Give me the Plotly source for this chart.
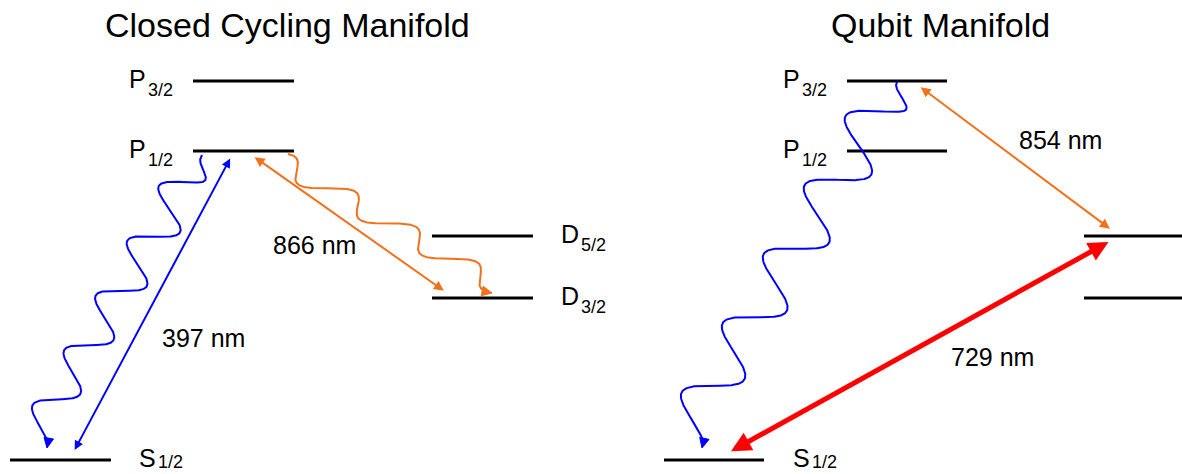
import numpy as np
import plotly.graph_objects as go

W, H = 1182, 474
FONT = "Liberation Sans, Arial, Helvetica, sans-serif"

# ---------------- data ----------------
panel_titles = ["Closed Cycling Manifold", "Qubit Manifold"]
panel_title_x = [287, 940]

level_names = ["S1/2", "D3/2", "D5/2", "P1/2", "P3/2"]
level_letters = ["S", "D", "D", "P", "P"]
level_subs = ["1/2", "3/2", "5/2", "1/2", "3/2"]
level_energy = [14, 176, 238, 323, 393]          # vertical position of each level

# horizontal extent of each level line in the two panels
left_x0 = [10, 432, 432, 193, 193]
left_x1 = [111, 533, 533, 294, 294]
right_x0 = [664, 1084, 1084, 847, 847]
right_x1 = [764, 1195, 1195, 947, 947]
left_label_x = [138, 560, 560, 128, 128]
right_label_x = [792, None, None, 782, 782]

# laser (driven, double-headed) transitions
laser_names = ["397 nm", "866 nm", "854 nm", "729 nm"]
laser_lower = ["S1/2", "D3/2", "D5/2", "S1/2"]
laser_upper = ["P1/2", "P1/2", "P3/2", "D5/2"]
laser_lower_x = [73, 447, 1113, 726]
laser_upper_x = [231, 253, 919, 1112]
laser_lower_gap = [7, 5, 5, 6]
laser_upper_gap = [6, 5, 5, 4]
laser_label_x = [203, 314, 1060, 992]
laser_label_y = [136, 229, 334, 117]

# spontaneous decays (wavy arrows)
decay_upper = ["P1/2", "P1/2", "P3/2"]
decay_lower = ["S1/2", "D3/2", "S1/2"]
decay_upper_x = [202, 288, 897]
decay_lower_x = [47, 492, 702]
decay_upper_gap = [4, 3, 1]
decay_lower_gap = [12, 5, 12]

# ---------------- styles ----------------
BLUE = "#0000FF"
ORANGE = "#F2711C"
RED = "#FF0000"
laser_style = [
    dict(color=BLUE, width=2, size=0.9),
    dict(color=ORANGE, width=2, size=1.0),
    dict(color=ORANGE, width=2, size=1.0),
    dict(color=RED, width=5, size=0.8),
]
decay_style = [
    dict(color=BLUE, th0=0.0 * np.pi, th1=10.5 * np.pi, a0=22, a1=17, rot=90, ramp=0.9 * np.pi),
    dict(color=ORANGE, th0=0.35 * np.pi, th1=7.7 * np.pi, a0=14, a1=13, rot=59, ramp=0.0),
    dict(color=BLUE, th0=0.15 * np.pi, th1=10.5 * np.pi, a0=27, a1=23, rot=90, ramp=0.6 * np.pi),
]

E = dict(zip(level_names, level_energy))

fig = go.Figure()
annotations = []

# ---- level lines ----
for x0s, x1s in [(left_x0, left_x1), (right_x0, right_x1)]:
    xs, ys = [], []
    for name, a, b in zip(level_names, x0s, x1s):
        xs += [a, b, None]
        ys += [E[name], E[name], None]
    fig.add_trace(go.Scatter(x=xs, y=ys, mode="lines",
                             line=dict(color="black", width=3),
                             hoverinfo="skip", showlegend=False))

# ---- level labels ----
LETTER_SIZE = 25
SUB_SIZE = 18
letter_w = {"P": 0.667, "S": 0.667, "D": 0.722}
for labx in (left_label_x, right_label_x):
    for name, let, sub, lx in zip(level_names, level_letters, level_subs, labx):
        if lx is None:
            continue
        annotations.append(dict(x=lx - 1, y=E[name] + 2, text=let, showarrow=False,
                                xanchor="left", yanchor="middle",
                                font=dict(family=FONT, size=LETTER_SIZE, color="black")))
        sx = lx + letter_w[let] * LETTER_SIZE + 2
        sy = max(E[name] - 9, 0.6 * SUB_SIZE + 1.5)
        annotations.append(dict(x=sx - 1, y=sy, text=sub, showarrow=False,
                                xanchor="left", yanchor="middle",
                                font=dict(family=FONT, size=SUB_SIZE, color="black")))

# ---- titles ----
for t, cx in zip(panel_titles, panel_title_x):
    annotations.append(dict(x=cx, y=449, text=t, showarrow=False,
                            xanchor="center", yanchor="middle",
                            font=dict(family=FONT, size=34, color="black")))

# ---- laser arrows ----
for i in range(len(laser_names)):
    st = laser_style[i]
    xl, yl = laser_lower_x[i], E[laser_lower[i]] + laser_lower_gap[i]
    xu, yu = laser_upper_x[i], E[laser_upper[i]] - laser_upper_gap[i]
    sc = st["width"] * st["size"]
    annotations.append(dict(x=xu, y=yu, ax=xl, ay=yl, axref="x", ayref="y",
                            xref="x", yref="y", text="", showarrow=True,
                            arrowhead=2, startarrowhead=2, arrowside="end+start",
                            arrowwidth=st["width"], arrowsize=st["size"],
                            startarrowsize=st["size"], arrowcolor=st["color"],
                            standoff=sc, startstandoff=sc))
    annotations.append(dict(x=laser_label_x[i], y=laser_label_y[i], text=laser_names[i],
                            showarrow=False, xanchor="center", yanchor="middle",
                            font=dict(family=FONT, size=25, color="black")))


# ---- wavy decay arrows ----
def smoothstep(x):
    x = np.clip(x, 0, 1)
    return x * x * (3 - 2 * x)


def wave(p0, p1, th0, th1, a0, a1, rot_deg, ramp, n=1000):
    p0 = np.asarray(p0, float)
    p1 = np.asarray(p1, float)
    v = p1 - p0
    d = v / np.hypot(*v)
    r = np.deg2rad(rot_deg)
    m = np.array([d[0] * np.cos(r) - d[1] * np.sin(r),
                  d[0] * np.sin(r) + d[1] * np.cos(r)])
    t = np.linspace(0, 1, n)
    th = th0 + (th1 - th0) * t
    amp = a0 + (a1 - a0) * t
    if ramp > 0:
        amp = amp * smoothstep((th - th0) / ramp)
    off = amp * np.sin(th)
    corr = (1 - t) * off[0] + t * off[-1]
    return p0[None, :] + t[:, None] * v[None, :] + (off - corr)[:, None] * m[None, :]


HEAD_LEN = 10.0
HEAD_HALF = 4.8
for i in range(len(decay_upper)):
    st = decay_style[i]
    p0 = (decay_upper_x[i], E[decay_upper[i]] - decay_upper_gap[i])
    p1 = (decay_lower_x[i], E[decay_lower[i]] + decay_lower_gap[i])
    pts = wave(p0, p1, st["th0"], st["th1"], st["a0"], st["a1"], st["rot"], st["ramp"])
    seg = np.hypot(np.diff(pts[:, 0]), np.diff(pts[:, 1]))
    cum = np.concatenate([[0], np.cumsum(seg)])
    # tangent at the end of the curve
    j = int(np.searchsorted(cum, cum[-1] - 5))
    tan = pts[-1] - pts[j]
    tan = tan / np.hypot(*tan)
    nrm = np.array([-tan[1], tan[0]])
    tip = pts[-1]
    base = tip - HEAD_LEN * tan
    k = int(np.searchsorted(cum, cum[-1] - HEAD_LEN + 2))
    fig.add_trace(go.Scatter(x=list(pts[:k + 1, 0]), y=list(pts[:k + 1, 1]), mode="lines",
                             line=dict(color=st["color"], width=2),
                             hoverinfo="skip", showlegend=False))
    tri = np.array([tip, base + HEAD_HALF * nrm, base - HEAD_HALF * nrm, tip])
    fig.add_trace(go.Scatter(x=tri[:, 0], y=tri[:, 1], mode="lines", fill="toself",
                             fillcolor=st["color"], line=dict(color=st["color"], width=1),
                             hoverinfo="skip", showlegend=False))

fig.update_layout(
    width=W, height=H, autosize=False,
    margin=dict(l=0, r=0, t=0, b=0, pad=0),
    paper_bgcolor="white", plot_bgcolor="white",
    xaxis=dict(range=[0, W], visible=False, fixedrange=True),
    yaxis=dict(range=[0, H], visible=False, fixedrange=True),
    annotations=annotations,
    showlegend=False,
)

fig.write_html("out.html")
